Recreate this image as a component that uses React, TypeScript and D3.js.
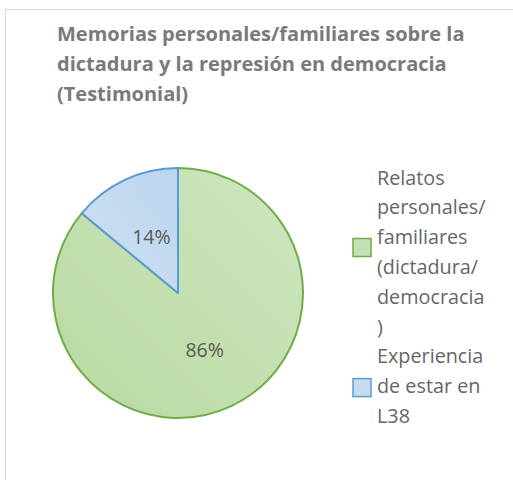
import { useMemo } from "react";
import * as d3 from "d3";

const WIDTH = 513;
const HEIGHT = 480;

const categories = ["Relatos personales/familiares (dictadura/democracia)", "Experiencia de estar en L38"];
const values = [86, 14];
const legendLines = [
  ["Relatos", "personales/", "familiares", "(dictadura/", "democracia", ")"],
  ["Experiencia", "de estar en", "L38"],
];
const titleLines = [
  "Memorias personales/familiares sobre la",
  "dictadura y la represión en democracia",
  "(Testimonial)",
];

const FILLS = ["url(#gGreen)", "url(#gBlue)"];
const STROKES = ["#70ad47", "#5b9bd5"];
const SWATCH = ["#c5e0b4", "#c6dbef"];

const CX = 178;
const CY = 293;
const R = 125;
const FONT = "'Open Sans', 'DejaVu Sans', sans-serif";

const App = () => {
  const arcs = useMemo(() => {
    const pie = d3.pie<number>().sort(null).value((d) => d);
    return pie(values);
  }, []);

  const arcGen = d3.arc<d3.PieArcDatum<number>>().innerRadius(0).outerRadius(R);
  const labelArc = d3.arc<d3.PieArcDatum<number>>().innerRadius(R * 0.5).outerRadius(R * 0.5);
  const total = d3.sum(values);

  const lineH = 29.8;
  let y0 = 177;
  const legendBlocks = legendLines.map((lines, i) => {
    const start = y0;
    y0 += lines.length * lineH;
    return { lines, start, i };
  });

  return (
    <svg width={WIDTH} height={HEIGHT} style={{ position: "absolute", left: 0, top: 0 }}>
      <defs>
        <linearGradient id="gGreen" x1="0" y1="1" x2="1" y2="0">
          <stop offset="0" stopColor="#b8d9a0" />
          <stop offset="1" stopColor="#cfe6c1" />
        </linearGradient>
        <linearGradient id="gBlue" x1="0" y1="1" x2="1" y2="0">
          <stop offset="0" stopColor="#cde0f3" />
          <stop offset="1" stopColor="#bcd6ee" />
        </linearGradient>
      </defs>
      <rect x={0} y={0} width={WIDTH} height={HEIGHT} fill="#fff" />
      <rect x={5.5} y={9.5} width={WIDTH + 10} height={HEIGHT + 10} fill="none" stroke="#d9d9d9" strokeWidth={1} />

      <g fontFamily={FONT} fontWeight="bold" fontSize={20} fill="#7a7a7a">
        {titleLines.map((t, i) => (
          <text key={i} x={57} y={33 + i * 30} dominantBaseline="central">
            {t}
          </text>
        ))}
      </g>

      <g transform={`translate(${CX},${CY})`}>
        {arcs.map((a, i) => (
          <path key={i} d={arcGen(a) || ""} fill={FILLS[i]} stroke={STROKES[i]} strokeWidth={2} strokeLinejoin="round" />
        ))}
        {arcs.map((a, i) => {
          const [x, y] = labelArc.centroid(a);
          return (
            <text
              key={`l${i}`}
              x={x}
              y={y}
              textAnchor="middle"
              dominantBaseline="central"
              fontFamily={FONT}
              fontSize={19.5}
              fill="#595959"
            >
              {`${Math.round((a.value / total) * 100)}%`}
            </text>
          );
        })}
      </g>

      <g fontFamily={FONT} fontSize={19.8} fill="#666">
        {legendBlocks.map(({ lines, start, i }) => {
          const mid = start + ((lines.length - 1) * lineH) / 2;
          return (
            <g key={i}>
              <title>{categories[i]}</title>
              <rect x={353} y={mid - 9 + (i === 0 ? -4 : 2)} width={18} height={18} fill={SWATCH[i]} stroke={STROKES[i]} strokeWidth={1.5} />
              {lines.map((l, j) => (
                <text key={j} x={377} y={start + j * lineH} dominantBaseline="central">
                  {l}
                </text>
              ))}
            </g>
          );
        })}
      </g>
    </svg>
  );
};

export default App;
